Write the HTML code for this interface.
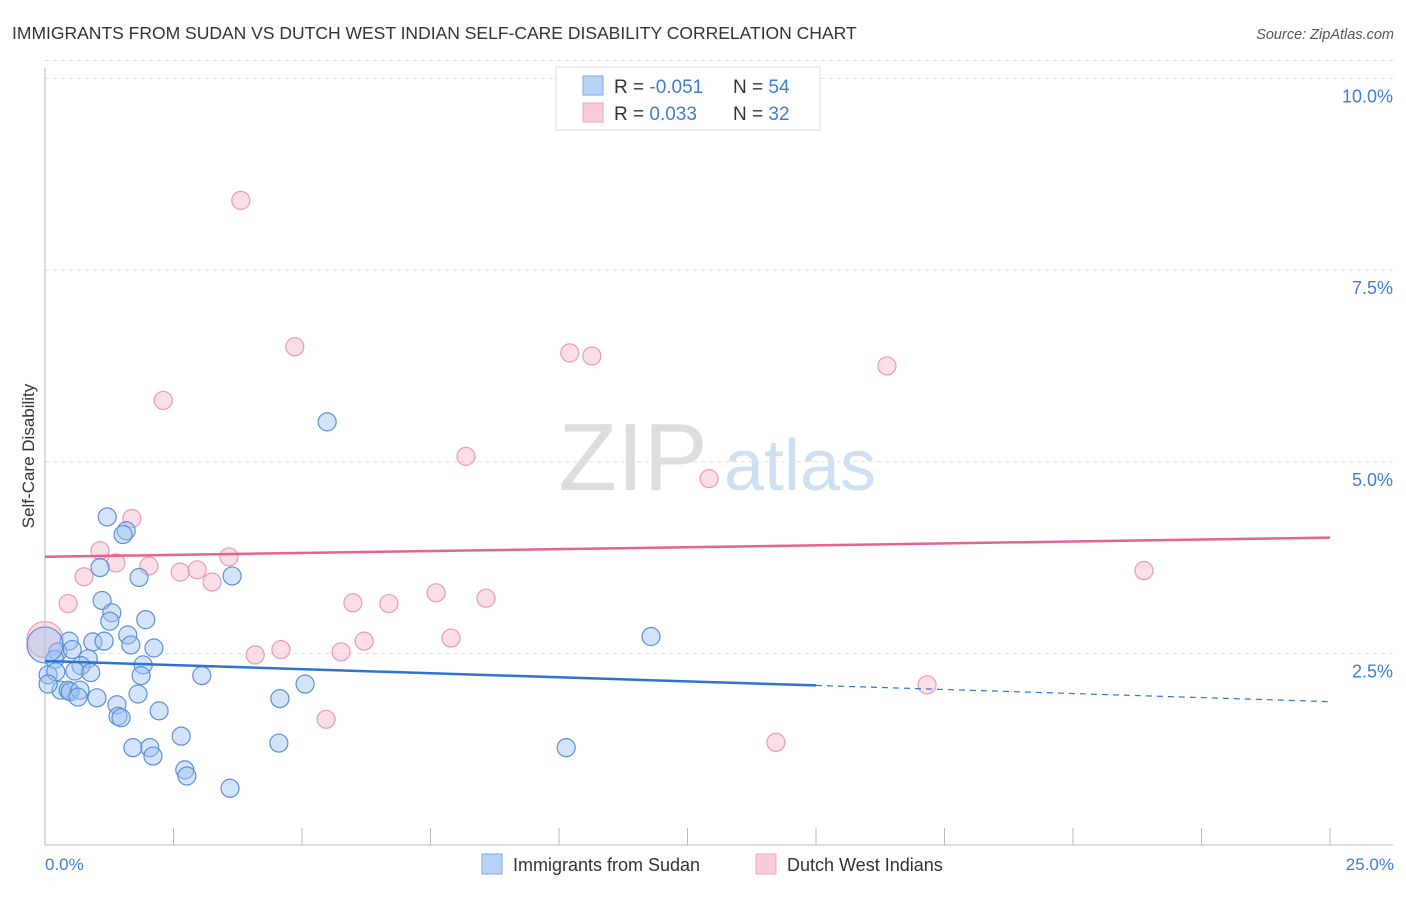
<!DOCTYPE html>
<html><head><meta charset="utf-8"><style>
body{margin:0;background:#fff;font-family:"Liberation Sans",sans-serif}
svg text{font-family:"Liberation Sans",sans-serif}
</style></head><body>
<svg id="chart" width="1406" height="892">
<text x="12" y="39" font-size="17.5" fill="#333">IMMIGRANTS FROM SUDAN VS DUTCH WEST INDIAN SELF-CARE DISABILITY CORRELATION CHART</text>
<text x="1394" y="39" font-size="14.5" fill="#555" text-anchor="end" font-style="italic">Source: ZipAtlas.com</text>
<g>
<text x="633" y="490" font-size="96" fill="#ddd" font-family="Liberation Serif,serif" text-anchor="middle">ZIP</text>
<text x="800" y="490" font-size="72" fill="#cfe0f3" text-anchor="middle">atlas</text>
</g>
<g id="grid"></g>
<g id="axes"></g>
<g id="pts"></g>
<g id="trend"></g>
<text x="34" y="456" font-size="17" fill="#333" text-anchor="middle" transform="rotate(-90 34 456)">Self-Care Disability</text>
<text x="45" y="870" font-size="17" fill="#3d7dd8">0.0%</text>
<text x="1394" y="870" font-size="17" fill="#3d7dd8" text-anchor="end">25.0%</text>
<g>
<rect x="556" y="67" width="264" height="63" fill="#fff" stroke="#ddd"/>
<rect x="583" y="76" width="20" height="19" fill="#b9d3f5" stroke="#7ea9e6"/>
<rect x="583" y="103" width="20" height="19" fill="#fbcadb" stroke="#f0a4be"/>
<text x="614" y="93" font-size="19" fill="#333">R = <tspan fill="#3d7dd8">-0.051</tspan></text>
<text x="733" y="93" font-size="19" fill="#333">N = <tspan fill="#3d7dd8">54</tspan></text>
<text x="614" y="120" font-size="19" fill="#333">R = <tspan fill="#3d7dd8"> 0.033</tspan></text>
<text x="733" y="120" font-size="19" fill="#333">N = <tspan fill="#3d7dd8">32</tspan></text>
</g>
<g>
<rect x="482" y="854" width="20" height="20" fill="#b9d3f5" stroke="#7ea9e6"/>
<text x="513" y="871" font-size="18" fill="#333">Immigrants from Sudan</text>
<rect x="756" y="854" width="20" height="20" fill="#fbcadb" stroke="#f0a4be"/>
<text x="787" y="871" font-size="18" fill="#333">Dutch West Indians</text>
</g>
</svg>
<script>
const yTicks=[2.5,5.0,7.5,10.0];
const yTickLabels=["2.5%","5.0%","7.5%","10.0%"];
const blueX=[1.21,1.58,1.52,1.07,1.83,3.64,1.11,1.30,1.26,1.96,1.61,0.93,1.15,1.67,2.12,0.47,0.25,0.53,0.84,0.19,0.70,0.58,1.91,0.06,0.21,0.89,1.87,0.31,0.45,0.49,0.68,1.01,0.64,1.40,1.81,1.42,1.48,2.22,3.05,5.06,4.57,5.49,11.79,2.65,1.71,2.04,2.10,2.72,2.76,3.60,4.55,10.14,0.06,0.0];
const blueY=[4.28,4.10,4.05,3.62,3.49,3.51,3.19,3.03,2.92,2.94,2.74,2.65,2.66,2.61,2.57,2.66,2.52,2.55,2.43,2.42,2.34,2.27,2.35,2.22,2.26,2.25,2.21,2.02,2.02,2.00,2.02,1.92,1.93,1.83,1.97,1.68,1.66,1.75,2.21,2.10,1.91,5.52,2.72,1.42,1.27,1.27,1.16,0.98,0.90,0.74,1.33,1.27,2.10,2.61];
const pinkX=[3.81,4.86,2.30,10.21,10.64,16.38,8.19,12.92,1.69,1.07,1.38,2.02,0.76,2.63,2.96,3.58,3.25,0.45,5.99,6.69,7.61,8.58,4.09,4.59,5.76,6.21,7.90,21.38,17.16,5.47,14.22,0.0];
const pinkY=[8.41,6.50,5.80,6.42,6.38,6.25,5.07,4.78,4.26,3.84,3.68,3.64,3.50,3.56,3.59,3.76,3.43,3.15,3.16,3.15,3.29,3.22,2.48,2.55,2.52,2.66,2.70,3.58,2.09,1.64,1.34,2.68];
const blueTrend=[2.40,1.87];
const pinkTrend=[3.76,4.01];
const NS="http://www.w3.org/2000/svg";
const X0=45,X1=1330,Y0=845,PXY=76.65;
const sx=v=>X0+v/25*(X1-X0);
const sy=v=>Y0-v*PXY;
function mk(tag,attrs,parent){const e=document.createElementNS(NS,tag);for(const k in attrs)e.setAttribute(k,attrs[k]);parent.appendChild(e);return e;}
const grid=document.getElementById('grid'),axes=document.getElementById('axes'),pts=document.getElementById('pts'),trend=document.getElementById('trend');
yTicks.forEach((t,i)=>{
 const l=mk('line',{x1:X0,x2:1393,y1:sy(t),y2:sy(t),stroke:'#ddd','stroke-dasharray':'4,4'},grid);
 
 
 const tx=mk('text',{x:1393,y:sy(t)+24,'font-size':18,fill:'#3d7dd8','text-anchor':'end'},grid);
 tx.textContent=yTickLabels[i];
 
 
});
const tg=mk('line',{x1:X0,x2:1393,y1:sy(10)-18,y2:sy(10)-18,stroke:'#ddd','stroke-dasharray':'4,4'},grid);


const ya=mk('line',{x1:X0,x2:X0,y1:68,y2:Y0,stroke:'#bbb'},axes);


const xa=mk('line',{x1:X0,x2:1393,y1:Y0,y2:Y0,stroke:'#bbb'},axes);


for(let i=0;i<=10;i++){
 const v=i*2.5;
 const t=mk('line',{x1:sx(v),x2:sx(v),y1:Y0-17,y2:Y0,stroke:'#bbb'},axes);
 
 
}
function dots(xs,ys,fill,stroke,name){
 xs.forEach((x,i)=>{
  const last=i===xs.length-1;
  const c=mk('circle',{cx:sx(x),cy:sy(ys[i]),r:last?18:9,fill:fill,stroke:stroke,'stroke-width':1.2},pts);
  
  
 });
}
dots(pinkX,pinkY,'rgba(248,182,204,0.45)','#eb9ab5','pink-point');
dots(blueX,blueY,'rgba(160,195,240,0.45)','#5b8fd8','blue-point');
const bm=15, bmid=blueTrend[0]+(blueTrend[1]-blueTrend[0])*bm/25;
const b1=mk('line',{x1:sx(0),y1:sy(blueTrend[0]),x2:sx(bm),y2:sy(bmid),stroke:'#2f72d6','stroke-width':2.5},trend);


const b2=mk('line',{x1:sx(bm),y1:sy(bmid),x2:sx(25),y2:sy(blueTrend[1]),stroke:'#2f72d6','stroke-width':1.2,'stroke-dasharray':'6,5'},trend);


const p1=mk('line',{x1:sx(0),y1:sy(pinkTrend[0]),x2:sx(25),y2:sy(pinkTrend[1]),stroke:'#e8628e','stroke-width':2.5},trend);


</script>
</body></html>
